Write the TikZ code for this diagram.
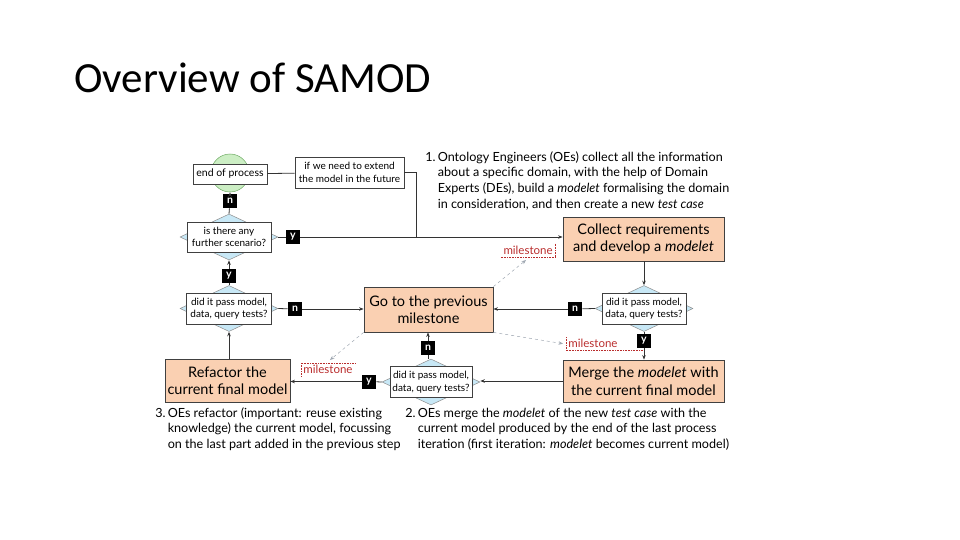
\documentclass[tikz,border=0pt]{standalone}
\usepackage{fontspec}
\setmainfont{Lato}
\newfontfamily\titlefont{Carlito}
\usetikzlibrary{shapes.geometric,arrows.meta}

\definecolor{peach}{RGB}{250,208,178}
\definecolor{skyfill}{RGB}{200,232,246}
\definecolor{mintfill}{RGB}{204,238,196}
\definecolor{mintline}{RGB}{110,170,100}
\definecolor{milered}{RGB}{185,45,45}
\definecolor{linkgrey}{RGB}{160,168,178}

\begin{document}
\begin{tikzpicture}[x=1pt,y=-1pt,>={Stealth[length=4.5pt,width=3.5pt]},
  line width=0.8pt, draw=black!80,
  taskbox/.style={draw=black!75, fill=peach, align=center, inner sep=0pt,
    font=\fontsize{14.5}{17.5}\selectfont},
  smallbox/.style={draw=black!75, fill=white, align=center, inner sep=0pt,
    font=\fontsize{10}{12.5}\selectfont},
  testdiamond/.style={diamond, draw=black!45, fill=skyfill, inner sep=0pt,
    minimum width=98pt, minimum height=46pt, line width=0.5pt},
  answer/.style={fill=black, text=white, inner sep=0pt, minimum size=14pt,
    font=\bfseries\fontsize{10.5}{10.5}\selectfont},
  milelabel/.style={text=milered, inner sep=2pt, font=\fontsize{11.5}{13}\selectfont},
  miledot/.style={milered, densely dotted, line width=0.6pt},
  dashlink/.style={->, linkgrey, dashed, line width=0.5pt},
  steptext/.style={anchor=north west, inner sep=0pt,
    font=\fontsize{12.6}{15.6}\selectfont}]
\useasboundingbox (0,0) rectangle (960,540);

% title
\node[anchor=base west, inner sep=0pt, font=\titlefont\fontsize{43}{43}\selectfont]
  (title) at (74,93) {Overview of SAMOD};

% end of the process
\node[circle, draw=mintline, fill=mintfill, minimum size=38pt, line width=0.5pt] (endcirc) at (230,173) {};
\node[smallbox, minimum width=74pt, minimum height=20pt, font=\fontsize{10.5}{12}\selectfont] (endproc) at (230,174) {end of process};
\node[smallbox, minimum width=109pt, minimum height=31pt, font=\fontsize{10}{12.5}\selectfont] (extend) at (349.5,172.5) {if we need to extend\\the model in the future};
\coordinate (join) at (416,238);

% test boxes
\node[testdiamond] (dec1d) at (229,237) {};
\node[smallbox, minimum width=84pt, minimum height=30pt] (dec1) at (229,237) {is there any\\further scenario?};
\node[testdiamond] (dec2d) at (229,308.5) {};
\node[smallbox, minimum width=85pt, minimum height=31pt] (dec2) at (229,308.5) {did it pass model,\\data, query tests?};
\node[testdiamond] (dec3d) at (644,308.5) {};
\node[smallbox, minimum width=84pt, minimum height=31pt] (dec3) at (644,308.5) {did it pass model,\\data, query tests?};
\node[testdiamond] (dec4d) at (431,382) {};
\node[smallbox, minimum width=82pt, minimum height=31pt] (dec4) at (431,382) {did it pass model,\\data, query tests?};

% main steps
\node[taskbox, minimum width=161pt, minimum height=44pt] (collect) at (643.5,239) {Collect requirements\\and develop a \emph{modelet}};
\node[taskbox, minimum width=129pt, minimum height=45pt] (goback) at (428.5,309.5) {Go to the previous\\milestone};
\node[taskbox, minimum width=161pt, minimum height=42pt] (merge) at (643.5,381) {Merge the \emph{modelet} with\\the current final model};
\node[taskbox, minimum width=125pt, minimum height=43pt] (refactor) at (227.5,380.5) {Refactor the\\current final model};

% answers
\node[answer] (n1) at (230,201) {n};
\node[answer] (y1) at (293,237) {y};
\node[answer] (y4) at (229,276) {y};
\node[answer] (n4) at (295,309) {n};
\node[answer] (n2) at (575,309) {n};
\node[answer] (y2) at (644,341) {y};
\node[answer] (n3) at (428,348) {n};
\node[answer] (y3) at (369,381.5) {y};

% milestones
\node[milelabel, anchor=south east] (mile1) at (555,257) {milestone};
\node[milelabel, anchor=north west] (mile2) at (566,337) {milestone};
\node[milelabel, anchor=north west] (mile3) at (301,363) {milestone};
\draw[miledot] (mile1.north east) -- (mile1.south east) -- (mile1.south west);
\draw[miledot] (mile2.north west) -- (mile2.south west) -- (mile2.south west -| y2);
\draw[miledot] (mile3.south west) -- (mile3.north west) -- (mile3.north east);

% connectors
\draw (endproc) -- (extend);
\draw (extend.east) -| (join);
\draw[->] (n1) -- (endcirc.south);
\draw (dec1d.north) -- (n1);
\draw (dec1d.east) -- (y1);
\draw[->] (y1) -- (y1 -| collect.west);
\draw[->] (collect.south -| dec3) -- (dec3d.north);
\draw (dec3d.west) -- (n2);
\draw[->] (n2) -- (n2 -| goback.east);
\draw (dec3d.south) -- (y2);
\draw[->] (y2) -- (y2 |- merge.north);
\draw[->] (merge.west) -- (merge.west -| dec4d.east);
\draw (dec4d.north -| n3) -- (n3);
\draw[->] (n3) -- (n3 |- goback.south);
\draw (dec4d.west) -- (y3);
\draw[->] (y3) -- (y3 -| refactor.east);
\draw[->] (refactor.north -| dec2) -- (dec2d.south);
\draw (dec2d.north) -- (y4);
\draw[->] (y4) -- (dec1d.south);
\draw (dec2d.east) -- (n4);
\draw[->] (n4) -- (n4 -| goback.west);
\draw[dashlink] (goback.north east) -- ([shift={(-2,3)}]mile1.south);
\draw[dashlink] (goback.south east) -- ([xshift=-3pt]mile2.west);
\draw[dashlink] (goback.south west) -- ([shift={(2,-3)}]mile3.north);

% step descriptions
\node[steptext] (step1) at (425,150) {\begin{tabular}{@{}l@{\,}l@{}}
  1. & Ontology Engineers (OEs) collect all the information\\
     & about a specific domain, with the help of Domain\\
     & Experts (DEs), build a \emph{modelet} formalising the domain\\
     & in consideration, and then create a new \emph{test case}
  \end{tabular}};
\node[steptext] (step2) at (405,406) {\begin{tabular}{@{}l@{\,}l@{}}
  2. & OEs merge the \emph{modelet} of the new \emph{test case} with the\\
     & current model produced by the end of the last process\\
     & iteration (first iteration: \emph{modelet} becomes current model)
  \end{tabular}};
\node[steptext] (step3) at (155,406) {\begin{tabular}{@{}l@{\,}l@{}}
  3. & OEs refactor (important: reuse existing\\
     & knowledge) the current model, focussing\\
     & on the last part added in the previous step
  \end{tabular}};
\end{tikzpicture}
\end{document}
